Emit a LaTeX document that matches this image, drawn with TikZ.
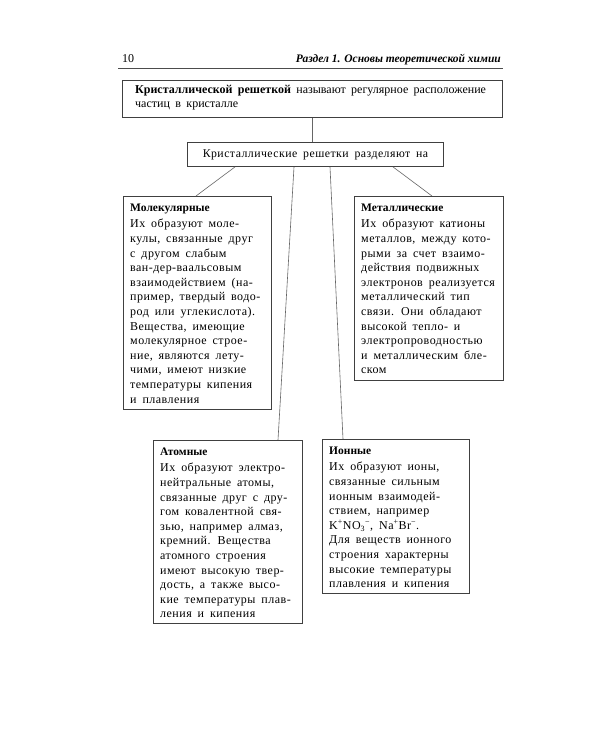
\documentclass[tikz,border=0pt]{standalone}
\usepackage{fontspec}
\setmainfont{Liberation Serif}
\newfontfamily\kastenfont{Liberation Serif}[LetterSpace=4.0, WordSpace=1.7]
\newfontfamily\deffont{Liberation Serif}[WordSpace=1.8]
\newcommand{\titel}[1]{{\rmfamily\bfseries\fontsize{11.5}{14.6}\selectfont #1}}

\tikzset{
	kasten/.style={draw=black!75, line width=0.9pt, fill=white, inner sep=0pt,
	anchor=north west},
	textblock/.style={anchor=north west, inner sep=0pt, align=left,
	font=\kastenfont\fontsize{12}{14.6}\selectfont},
	linie/.style={draw=black!60, line width=0.6pt}
}

\begin{document}
\begin{tikzpicture}[x=1pt, y=-1pt]
	\useasboundingbox[fill=white] (0,0) rectangle (600,750);

	% Kopfzeile
	\node[anchor=base west, inner sep=0pt, font=\fontsize{12}{14}\selectfont]
	(seite) at (122, 62) {10};
	\node[anchor=base east, inner sep=0pt,
	font=\fontsize{11.5}{14}\selectfont\bfseries\itshape]
	(kopf) at (501, 62) {Раздел 1. Основы теоретической химии};
	\draw[black!70, line width=0.8pt] (118, 68) -- (503, 68);

	% Definition oben
	\node[kasten, minimum width=380, minimum height=37] (def) at (122, 80) {};
	\node[textblock, font=\deffont\fontsize{12}{14}\selectfont] (deftext) at
	([shift={(13,5)}]def.north west)
	{\textbf{Кристаллической решеткой} называют регулярное расположение\\
	частиц в кристалле};

	% Einteilung
	\node[kasten, minimum width=256, minimum height=24] (einteilung) at (187, 142)
	{};
	\node[inner sep=0pt, font=\kastenfont\fontsize{11.8}{14}\selectfont]
	(einttext) at (einteilung.center) {Кристаллические решетки разделяют на};

	% Molekulgitter
	\node[kasten, minimum width=148, minimum height=213] (mol) at (123, 196) {};
	\node[textblock] (moltext) at ([shift={(7,8)}]mol.north west)
	{\titel{Молекулярные}\\[1.5pt]
	Их образуют моле-\\
	кулы, связанные друг\\
	с другом слабым\\
	ван-дер-ваальсовым\\
	взаимодействием (на-\\
	пример, твердый водо-\\
	род или углекислота).\\
	Вещества, имеющие\\
	молекулярное строе-\\
	ние, являются лету-\\
	чими, имеют низкие\\
	температуры кипения\\
	и плавления};

	% Metallgitter
	\node[kasten, minimum width=149, minimum height=184] (met) at (354, 196) {};
	\node[textblock] (mettext) at ([shift={(7,8)}]met.north west)
	{\titel{Металлические}\\[1.5pt]
	Их образуют катионы\\
	металлов, между кото-\\
	рыми за счет взаимо-\\
	действия подвижных\\
	электронов реализуется\\
	металлический тип\\
	связи. Они обладают\\
	высокой тепло- и\\
	электропроводностью\\
	и металлическим бле-\\
	ском};

	% Atomgitter
	\node[kasten, minimum width=149, minimum height=183] (atom) at (153, 440) {};
	\node[textblock] (atomtext) at ([shift={(7,8)}]atom.north west)
	{\titel{Атомные}\\[1.5pt]
	Их образуют электро-\\
	нейтральные атомы,\\
	связанные друг с дру-\\
	гом ковалентной свя-\\
	зью, например алмаз,\\
	кремний. Вещества\\
	атомного строения\\
	имеют высокую твер-\\
	дость, а также высо-\\
	кие температуры плав-\\
	ления и кипения};

	% Ionengitter
	\node[kasten, minimum width=147, minimum height=154] (ion) at (322, 439) {};
	\node[textblock] (iontext) at ([shift={(7,8)}]ion.north west)
	{\titel{Ионные}\\[1.5pt]
	Их образуют ионы,\\
	связанные сильным\\
	ионным взаимодей-\\
	ствием, например\\
	K\textsuperscript{+}NO\textsubscript{3}\textsuperscript{−},\
	Na\textsuperscript{+}Br\textsuperscript{−}.\\
	Для веществ ионного\\
	строения характерны\\
	высокие температуры\\
	плавления и кипения};

	% Verbindungen
	\draw[linie] (def.south) -- (einteilung.north -| def.south);
	\draw[linie] ([xshift=48]einteilung.south west) -- ([xshift=73]mol.north west);
	\draw[linie] ([xshift=107]einteilung.south west) -- ([xshift=125]atom.north west);
	\draw[linie] ([xshift=143]einteilung.south west) -- ([xshift=21]ion.north west);
	\draw[linie] ([xshift=206]einteilung.south west) -- ([xshift=78]met.north west);
\end{tikzpicture}
\end{document}
